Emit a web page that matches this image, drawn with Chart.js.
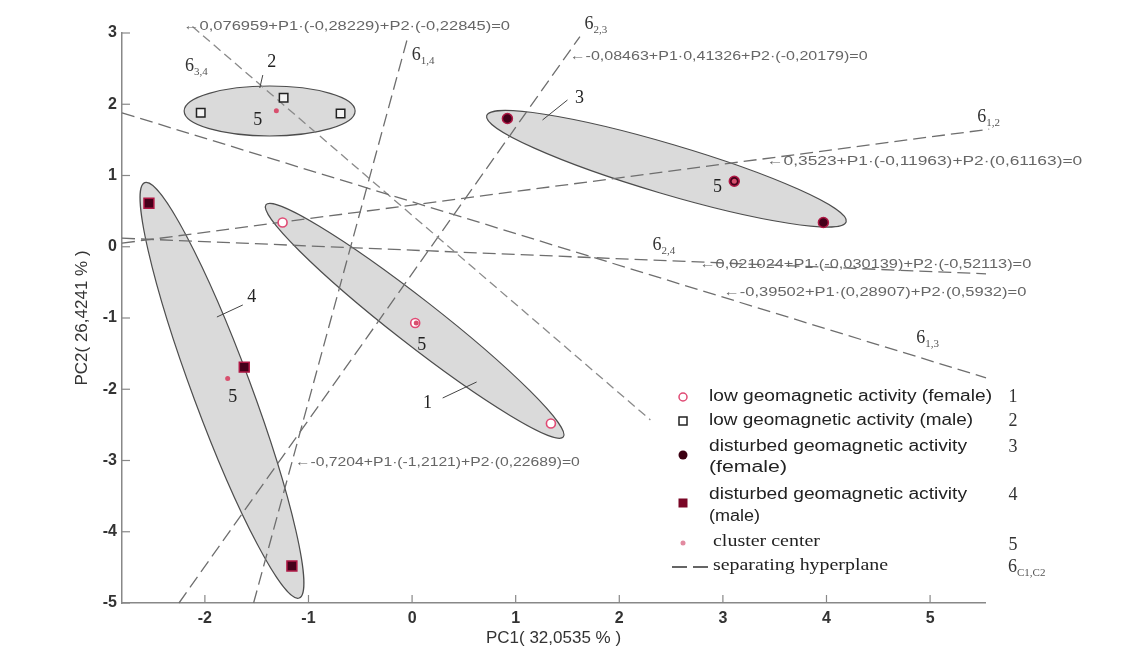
<!DOCTYPE html>
<html>
<head>
<meta charset="utf-8">
<script src="https://cdn.jsdelivr.net/npm/chart.js@4.4.1/dist/chart.umd.min.js"></script>
<style>
  html, body { margin: 0; padding: 0; background: #fff; }
</style>
</head>
<body>
<canvas id="pcaChart" width="1139" height="653"></canvas>
<script>
// PCA scores
const lowFemaleX = [-1.25, 0.03, 1.34];
const lowFemaleY = [0.34, -1.07, -2.48];
const lowMaleX = [-2.04, -1.24, -0.69];
const lowMaleY = [1.88, 2.09, 1.87];
const disturbedFemaleX = [0.92, 3.11, 3.97];
const disturbedFemaleY = [1.80, 0.92, 0.34];
const disturbedMaleX = [-2.54, -1.62, -1.16];
const disturbedMaleY = [0.61, -1.69, -4.48];
const centerX = [0.04, -1.31, 3.11, -1.78];
const centerY = [-1.07, 1.91, 0.92, -1.85];

// separating hyperplanes, two end points each
const sep12X = [-2.8, 5.57];  const sep12Y = [0.05, 1.65];
const sep24X = [-2.8, 5.54];  const sep24Y = [0.12, -0.38];
const sep13X = [-2.8, 5.54];  const sep13Y = [1.88, -1.84];
const sep34X = [-2.12, 2.30]; const sep34Y = [3.09, -2.43];
const sep14X = [-1.53, -0.04]; const sep14Y = [-5, 2.95];
const sep23X = [-2.25, 1.62]; const sep23Y = [-5, 2.95];

// cluster ellipses: major axis tips
const ellipseTipX = [[-1.41, 1.46], [-2.20, -0.55], [0.72, 4.19], [-2.58, -1.09]];
const ellipseTipY = [[0.59, -2.67], [1.905, 1.905], [1.84, 0.35], [0.90, -4.93]];

const xTickValues = [-2, -1, 0, 1, 2, 3, 4, 5];
const yTickValues = [-5, -4, -3, -2, -1, 0, 1, 2, 3];

const zip = (xs, ys) => xs.map((v, i) => ({ x: v, y: ys[i] }));

// annotation placement (data coords) and looks
const ellipseHalfWidth = [22.5, 25, 25, 29];
const eqLabels = [
  { text: '←0,076959+P1·(-0,28229)+P2·(-0,22845)=0', x: -2.211, y: 3.084, w: 327 },
  { text: '←-0,08463+P1·0,41326+P2·(-0,20179)=0', x: 1.520, y: 2.663, w: 298 },
  { text: '←0,3523+P1·(-0,11963)+P2·(0,61163)=0', x: 3.418, y: 1.189, w: 316 },
  { text: '←0,021024+P1·(-0,030139)+P2·(-0,52113)=0', x: 2.772, y: -0.256, w: 332 },
  { text: '←-0,39502+P1·(0,28907)+P2·(0,5932)=0', x: 3.004, y: -0.649, w: 303 },
  { text: '←-0,7204+P1·(-1,2121)+P2·(0,22689)=0', x: -1.132, y: -3.035, w: 285 }
];
const sigmaLabels = [
  { sub: '3,4', x: -2.193, y: 2.537 },
  { sub: '1,4', x: -0.004, y: 2.691 },
  { sub: '2,3', x: 1.664, y: 3.126 },
  { sub: '1,2', x: 5.454, y: 1.821 },
  { sub: '2,4', x: 2.320, y: 0.025 },
  { sub: '1,3', x: 4.866, y: -1.280 }
];
const groupLabels = [
  { text: '1', x: 0.150, y: -2.193, lead: [0.295, -2.123, 0.623, -1.898] },
  { text: '2', x: -1.354, y: 2.593, lead: [-1.441, 2.410, -1.470, 2.228] },
  { text: '3', x: 1.616, y: 2.088, lead: [1.500, 2.060, 1.259, 1.779] },
  { text: '4', x: -1.547, y: -0.705, lead: [-1.634, -0.817, -1.884, -0.986] },
  { text: '5', x: -1.489, y: 1.779 },
  { text: '5', x: 0.093, y: -1.379 },
  { text: '5', x: 2.947, y: 0.839 },
  { text: '5', x: -1.730, y: -2.109 }
];

const SERIF = '"Liberation Serif", "DejaVu Serif", serif';
const SANS = '"Liberation Sans", Arial, sans-serif';

function stretchText(ctx, text, x, y, font, color, width, align) {
  ctx.save();
  ctx.font = font;
  ctx.fillStyle = color;
  ctx.textBaseline = 'middle';
  ctx.textAlign = align || 'left';
  const w = ctx.measureText(text).width;
  const s = width ? width / w : 1;
  ctx.translate(x, y);
  ctx.scale(s, 1);
  ctx.fillText(text, 0, 0);
  ctx.restore();
}

function sigma(ctx, x, y, sub, size) {
  ctx.save();
  ctx.fillStyle = '#333';
  ctx.textBaseline = 'middle';
  ctx.textAlign = 'left';
  ctx.font = size + 'px ' + SERIF;
  ctx.fillText('6', x, y);
  const w = ctx.measureText('6').width;
  ctx.font = Math.round(size * 0.6) + 'px ' + SERIF;
  ctx.fillStyle = '#555';
  ctx.fillText(sub, x + w, y + size * 0.35);
  ctx.restore();
}

function segment(ctx, x1, y1, x2, y2, color, width) {
  ctx.save();
  ctx.strokeStyle = color;
  ctx.lineWidth = width;
  ctx.beginPath();
  ctx.moveTo(x1, y1);
  ctx.lineTo(x2, y2);
  ctx.stroke();
  ctx.restore();
}

const overlay = {
  id: 'overlay',
  beforeDatasetsDraw(chart) {
    const { ctx, scales: { x, y } } = chart;
    ellipseTipX.forEach((tx, i) => {
      const ty = ellipseTipY[i];
      const x1 = x.getPixelForValue(tx[0]), y1 = y.getPixelForValue(ty[0]);
      const x2 = x.getPixelForValue(tx[1]), y2 = y.getPixelForValue(ty[1]);
      const a = Math.hypot(x2 - x1, y2 - y1) / 2;
      const ang = Math.atan2(y2 - y1, x2 - x1);
      ctx.save();
      ctx.beginPath();
      ctx.ellipse((x1 + x2) / 2, (y1 + y2) / 2, a, ellipseHalfWidth[i], ang, 0, Math.PI * 2);
      ctx.fillStyle = '#dadada';
      ctx.fill();
      ctx.strokeStyle = '#4d4d4d';
      ctx.lineWidth = 1.2;
      ctx.stroke();
      ctx.restore();
    });
  },
  afterDraw(chart) {
    const { ctx, scales: { x, y }, chartArea } = chart;

    // inward tick marks
    x.ticks.forEach(t => {
      const p = x.getPixelForValue(t.value);
      segment(ctx, p, chartArea.bottom, p, chartArea.bottom - 8, '#888', 1.2);
    });
    y.ticks.forEach(t => {
      const p = y.getPixelForValue(t.value);
      segment(ctx, chartArea.left, p, chartArea.left + 8, p, '#888', 1.2);
    });

    // equations of the hyperplanes
    eqLabels.forEach(l => {
      stretchText(ctx, l.text, x.getPixelForValue(l.x), y.getPixelForValue(l.y),
        '12.5px ' + SANS, '#666', l.w);
    });
    sigmaLabels.forEach(l => {
      sigma(ctx, x.getPixelForValue(l.x), y.getPixelForValue(l.y), l.sub, 18);
    });
    groupLabels.forEach(l => {
      if (l.lead) {
        segment(ctx, x.getPixelForValue(l.lead[0]), y.getPixelForValue(l.lead[1]),
          x.getPixelForValue(l.lead[2]), y.getPixelForValue(l.lead[3]), '#444', 1);
      }
      stretchText(ctx, l.text, x.getPixelForValue(l.x), y.getPixelForValue(l.y),
        '18px ' + SERIF, '#222', null, 'center');
    });

    // legend
    const mx = 683, tx = 709, nx = 1013;
    const sansFont = '16px ' + SANS;
    const dark = '#222';
    ctx.save();
    ctx.lineWidth = 1.5;
    // 1
    ctx.beginPath(); ctx.arc(mx, 397, 4, 0, Math.PI * 2);
    ctx.fillStyle = '#fff'; ctx.fill(); ctx.strokeStyle = '#e04a74'; ctx.stroke();
    // 2
    ctx.fillStyle = '#fff'; ctx.strokeStyle = '#222';
    ctx.fillRect(mx - 4, 417, 8, 8); ctx.strokeRect(mx - 4, 417, 8, 8);
    // 3
    ctx.beginPath(); ctx.arc(mx, 455, 4.5, 0, Math.PI * 2);
    ctx.fillStyle = '#3c0012'; ctx.fill();
    // 4
    ctx.fillStyle = '#7a0626'; ctx.fillRect(mx - 4.5, 498.5, 9, 9);
    // 5
    ctx.beginPath(); ctx.arc(mx, 543, 2.5, 0, Math.PI * 2);
    ctx.fillStyle = '#e28aa0'; ctx.fill();
    ctx.restore();
    ctx.save();
    ctx.strokeStyle = '#333'; ctx.lineWidth = 1.3; ctx.setLineDash([15, 6]);
    ctx.beginPath(); ctx.moveTo(672, 567); ctx.lineTo(712, 567); ctx.stroke();
    ctx.restore();

    stretchText(ctx, 'low geomagnetic activity (female)', tx, 397, sansFont, dark, 283);
    stretchText(ctx, 'low geomagnetic activity (male)', tx, 421, sansFont, dark, 264);
    stretchText(ctx, 'disturbed geomagnetic activity', tx, 447, sansFont, dark, 258);
    stretchText(ctx, '(female)', tx, 468, sansFont, dark, 78);
    stretchText(ctx, 'disturbed geomagnetic activity', tx, 495, sansFont, dark, 258);
    stretchText(ctx, '(male)', tx, 517, sansFont, dark, 51);
    stretchText(ctx, 'cluster center', 713, 542, '17px ' + SERIF, dark, 107);
    stretchText(ctx, 'separating hyperplane', 713, 566, '17px ' + SERIF, dark, 175);
    ['1', '2', '3', '4', '5'].forEach((n, i) => {
      stretchText(ctx, n, nx, [397, 421, 447, 495, 545][i], '18px ' + SERIF, '#333', null, 'center');
    });
    sigma(ctx, 1008, 567, 'C1,C2', 18);
  }
};

const pointBase = { showLine: false, order: 1 };
const lineBase = {
  showLine: true, pointRadius: 0, borderColor: '#6e6e6e', borderWidth: 1.3,
  borderDash: [13, 6], fill: false, clip: false, order: 5
};

new Chart(document.getElementById('pcaChart'), {
  type: 'scatter',
  data: {
    datasets: [
      { ...pointBase, label: 'cluster center', data: zip(centerX, centerY),
        pointStyle: 'circle', pointRadius: 2.5, backgroundColor: '#d8506e', borderWidth: 0, order: 0 },
      { ...pointBase, label: 'low geomagnetic activity (female)', data: zip(lowFemaleX, lowFemaleY),
        pointStyle: 'circle', pointRadius: 4.5, backgroundColor: '#fff', borderColor: '#e04a74', borderWidth: 1.6 },
      { ...pointBase, label: 'low geomagnetic activity (male)', data: zip(lowMaleX, lowMaleY),
        pointStyle: 'rect', pointRadius: 6, backgroundColor: '#f4f4f4', borderColor: '#222', borderWidth: 1.5 },
      { ...pointBase, label: 'disturbed geomagnetic activity (female)', data: zip(disturbedFemaleX, disturbedFemaleY),
        pointStyle: 'circle', pointRadius: 5, backgroundColor: '#45001a', borderColor: '#b01845', borderWidth: 1.5 },
      { ...pointBase, label: 'disturbed geomagnetic activity (male)', data: zip(disturbedMaleX, disturbedMaleY),
        pointStyle: 'rect', pointRadius: 7, backgroundColor: '#45001a', borderColor: '#b01845', borderWidth: 1.5 },
      { ...lineBase, label: 'σ1,2', data: zip(sep12X, sep12Y) },
      { ...lineBase, label: 'σ2,4', data: zip(sep24X, sep24Y) },
      { ...lineBase, label: 'σ1,3', data: zip(sep13X, sep13Y) },
      { ...lineBase, label: 'σ3,4', data: zip(sep34X, sep34Y), borderColor: '#8a8a8a', borderDash: [9, 5] },
      { ...lineBase, label: 'σ1,4', data: zip(sep14X, sep14Y) },
      { ...lineBase, label: 'σ2,3', data: zip(sep23X, sep23Y) }
    ]
  },
  options: {
    responsive: false,
    animation: false,
    layout: { padding: { left: 0, top: 33, right: 154, bottom: 0 } },
    plugins: { legend: { display: false }, tooltip: { enabled: false } },
    scales: {
      x: {
        type: 'linear', min: -2.8, max: 5.53,
        afterBuildTicks: s => { s.ticks = xTickValues.map(v => ({ value: v })); },
        afterFit: s => { s.height = 50; },
        grid: { display: false, drawTicks: false },
        border: { display: true, color: '#888', width: 1.5 },
        ticks: { padding: 6, color: '#333', font: { family: SANS, size: 16, weight: 'bold' } },
        title: { display: true, text: 'PC1( 32,0535 % )', color: '#333',
          font: { family: SANS, size: 17 }, padding: { top: 0, bottom: 4 } }
      },
      y: {
        type: 'linear', min: -5, max: 3,
        afterBuildTicks: s => { s.ticks = yTickValues.map(v => ({ value: v })); },
        afterFit: s => { s.width = 122; },
        grid: { display: false, drawTicks: false },
        border: { display: true, color: '#888', width: 1.5 },
        ticks: { padding: 5, color: '#333', font: { family: SANS, size: 16, weight: 'bold' } },
        title: { display: true, text: 'PC2( 26,4241 % )', color: '#333',
          font: { family: SANS, size: 17 }, padding: { top: 72, bottom: 0 } }
      }
    }
  },
  plugins: [overlay]
});
</script>
</body>
</html>
